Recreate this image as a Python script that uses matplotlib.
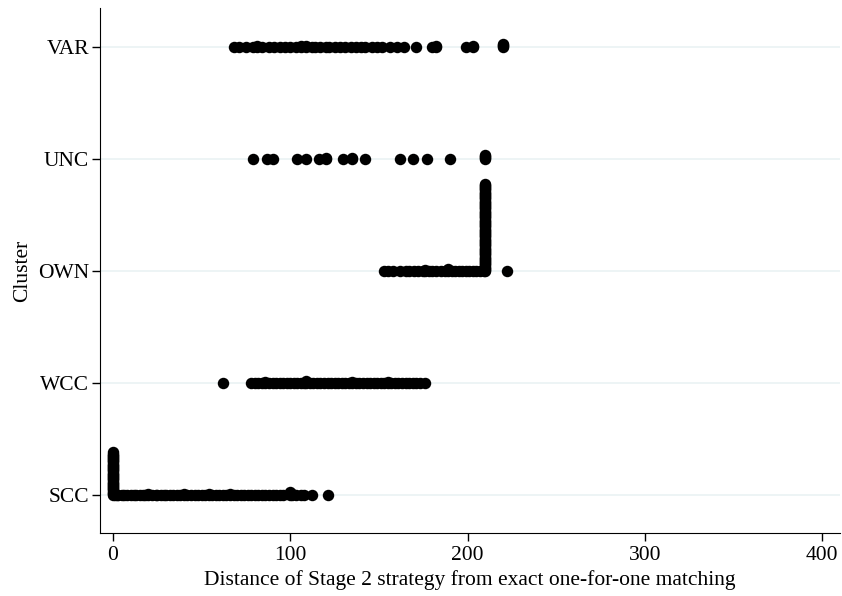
import matplotlib.pyplot as plt
import numpy as np

clusters = ['SCC', 'WCC', 'OWN', 'UNC', 'VAR']

# distance values per cluster, with how many observations share each value
scc_vals = [0, 1, 2, 3, 5, 6, 8, 10, 12, 13, 15, 17, 18, 20, 22, 24, 25, 27, 29, 30, 32, 34, 36, 38,
            40, 42, 44, 46, 48, 50, 52, 54, 56, 58, 60, 62, 64, 66, 68, 70, 72, 74, 76, 78, 80, 82,
            84, 86, 88, 90, 92, 94, 96, 100, 101, 103, 106, 108, 112, 121]
scc_counts = [39, 1, 1, 1, 1, 1, 1, 1, 1, 1, 1, 1, 1, 2, 1, 1, 1, 1, 1, 1, 1, 1, 1, 1,
              2, 1, 1, 1, 1, 1, 1, 2, 1, 1, 1, 1, 1, 2, 1, 1, 1, 1, 1, 1, 1, 1,
              1, 1, 1, 1, 1, 1, 1, 4, 2, 1, 1, 1, 1, 1]

wcc_vals = [62, 78, 80, 82, 84, 86, 88, 90, 92, 94, 96, 98, 100, 102, 104, 106, 108, 109, 111, 113,
            115, 117, 119, 121, 123, 125, 127, 129, 131, 133, 135, 137, 139, 141, 143, 145, 147,
            149, 151, 153, 155, 157, 159, 161, 163, 165, 167, 169, 171, 173, 176]
wcc_counts = [1, 1, 1, 1, 1, 2, 1, 1, 1, 1, 1, 1, 1, 1, 1, 1, 1, 3, 1, 1,
              1, 1, 1, 1, 1, 1, 1, 1, 1, 1, 2, 1, 1, 1, 1, 1, 1,
              1, 1, 1, 2, 1, 1, 1, 1, 1, 1, 1, 1, 1, 1]

own_vals = [153, 155, 158, 162, 165, 167, 170, 172, 175, 176, 178, 180, 182, 185, 187, 189, 191,
            193, 195, 197, 199, 201, 203, 205, 207, 209, 210, 222]
own_counts = [1, 1, 1, 1, 1, 1, 1, 1, 1, 2, 1, 1, 1, 1, 1, 3, 1,
              1, 1, 1, 1, 1, 1, 1, 1, 1, 79, 1]

unc_vals = [79, 87, 90, 104, 109, 116, 120, 130, 135, 142, 162, 169, 177, 190, 210]
unc_counts = [1, 1, 1, 1, 1, 1, 2, 1, 2, 1, 1, 1, 1, 1, 5]

var_vals = [68, 71, 75, 79, 81, 84, 88, 91, 94, 97, 100, 103, 106, 109, 112, 114, 117, 120, 122,
            125, 128, 131, 134, 137, 140, 142, 146, 149, 152, 156, 160, 164, 171, 180, 182, 199,
            203, 220]
var_counts = [1, 1, 1, 1, 2, 1, 1, 1, 1, 1, 1, 1, 2, 2, 1, 1, 1, 1, 1,
              1, 1, 1, 1, 1, 1, 1, 1, 1, 1, 1, 1, 1, 1, 1, 2, 1,
              2, 4]

data = [(scc_vals, scc_counts), (wcc_vals, wcc_counts), (own_vals, own_counts),
        (unc_vals, unc_counts), (var_vals, var_counts)]

step = 0.01  # vertical offset for tied values

plt.rcParams['font.family'] = ['Liberation Serif', 'DejaVu Serif']
fig = plt.figure(figsize=(8.42, 5.96), dpi=100)
ax = fig.add_axes([0.1188, 0.1057, 0.8788, 0.8809])

for i, (vals, counts) in enumerate(data):
    xs = []
    ys = []
    for v, c in zip(vals, counts):
        for k in range(c):
            xs.append(v)
            ys.append(i + 1 + k * step)
    ax.scatter(xs, ys, s=68, color='black', linewidths=0, zorder=3)

for i in range(len(clusters)):
    ax.axhline(i + 1, color='#eaf2f3', lw=1.2, zorder=1)

ax.set_xlim(-7.3, 410)
ax.set_ylim(0.66, 5.35)
ax.set_yticks(range(1, len(clusters) + 1))
ax.set_yticklabels(clusters)
ax.set_xticks([0, 100, 200, 300, 400])
ax.tick_params(axis='both', labelsize=15.5, length=6, width=1, direction='out')
ax.tick_params(axis='y', pad=2)
ax.tick_params(axis='x', pad=3)
ax.set_xlabel('Distance of Stage 2 strategy from exact one-for-one matching', fontsize=15.5, labelpad=4)
ax.set_ylabel('Cluster', fontsize=15.5, labelpad=4)
ax.spines['top'].set_visible(False)
ax.spines['right'].set_visible(False)

plt.savefig('out.png', format='png')
